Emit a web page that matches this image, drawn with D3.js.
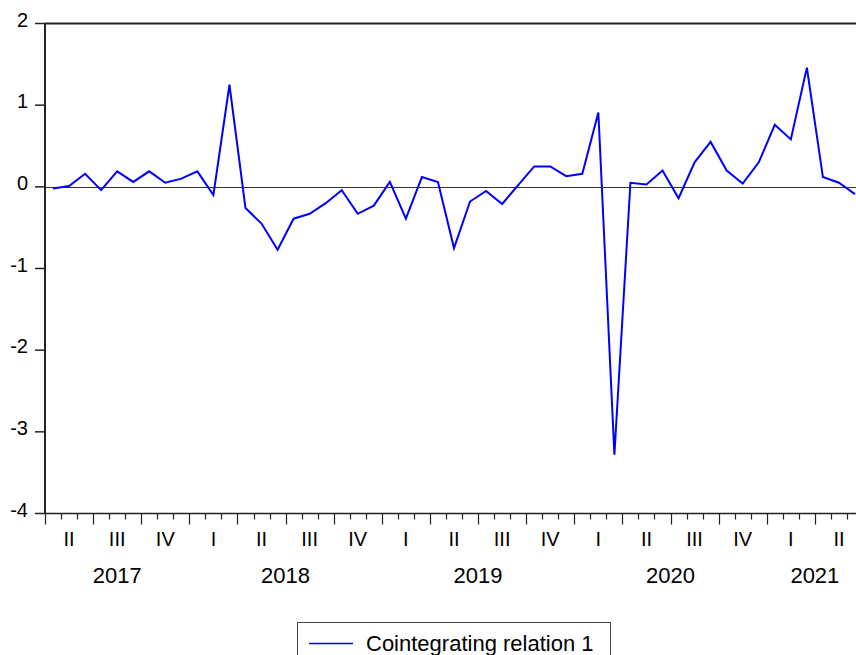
<!DOCTYPE html>
<html>
<head>
<meta charset="utf-8">
<script src="https://d3js.org/d3.v7.min.js"></script>
<style>
  body { margin: 0; background: #fff; }
  text { font-family: "Liberation Sans", Arial, sans-serif; fill: #000; }
</style>
</head>
<body>
<div id="chart"></div>
<script>
// monthly series, 2017M04 .. 2021M06
const startYear = 2017;
const startMonth = 4;
const values = [
  -0.02, 0.01, 0.16, -0.04, 0.19, 0.06, 0.19, 0.05, 0.10,
  0.19, -0.10, 1.25, -0.26, -0.45, -0.77, -0.39, -0.33, -0.20, -0.04, -0.33, -0.23,
  0.06, -0.39, 0.12, 0.06, -0.75, -0.18, -0.05, -0.21, 0.02, 0.25, 0.25, 0.13,
  0.16, 0.91, -3.28, 0.05, 0.03, 0.20, -0.14, 0.30, 0.55, 0.20, 0.04, 0.30,
  0.76, 0.58, 1.46, 0.12, 0.05, -0.09
];
const yTicks = [-4, -3, -2, -1, 0, 1, 2];
const quarterNames = ["I", "II", "III", "IV"];
const seriesName = "Cointegrating relation 1";

const width = 856, height = 655;
const margin = { top: 23.5, left: 45, bottom: 513.5 };

const svg = d3.select("#chart").append("svg")
  .attr("width", width)
  .attr("height", height);

const n = values.length;
const x = d3.scaleLinear().domain([-0.5, n - 0.5]).range([margin.left, 863]);
const y = d3.scaleLinear().domain([-4, 2]).range([margin.bottom, margin.top]);

const months = values.map((v, i) => {
  const m = startMonth - 1 + i;
  return { i, year: startYear + Math.floor(m / 12), month: (m % 12) + 1, value: v };
});

// zero line
svg.append("line")
  .attr("x1", margin.left).attr("x2", width)
  .attr("y1", Math.round(y(0)) + 0.5).attr("y2", Math.round(y(0)) + 0.5)
  .attr("stroke", "#333").attr("stroke-width", 1);

// frame: top + left + bottom
svg.append("line")
  .attr("x1", margin.left).attr("x2", width)
  .attr("y1", margin.top).attr("y2", margin.top)
  .attr("stroke", "#222").attr("stroke-width", 2);
svg.append("line")
  .attr("x1", margin.left).attr("x2", margin.left)
  .attr("y1", margin.top).attr("y2", margin.bottom)
  .attr("stroke", "#222").attr("stroke-width", 2);
svg.append("line")
  .attr("x1", margin.left).attr("x2", width)
  .attr("y1", margin.bottom).attr("y2", margin.bottom)
  .attr("stroke", "#222").attr("stroke-width", 1.5);

// y axis
const yAxis = svg.append("g");
yAxis.selectAll("line").data(yTicks).enter().append("line")
  .attr("x1", 35).attr("x2", margin.left)
  .attr("y1", d => y(d)).attr("y2", d => y(d))
  .attr("stroke", "#222").attr("stroke-width", 1.5);
yAxis.selectAll("text").data(yTicks).enter().append("text")
  .attr("x", 28).attr("y", d => y(d) + 3)
  .attr("text-anchor", "end")
  .style("font-size", "20px")
  .text(d => d);

// x axis ticks: month boundaries, long at quarter starts
const xAxis = svg.append("g");
xAxis.selectAll("line").data(d3.range(n + 1)).enter().append("line")
  .attr("x1", d => Math.round(x(d - 0.5)) + 0.5)
  .attr("x2", d => Math.round(x(d - 0.5)) + 0.5)
  .attr("y1", margin.bottom)
  .attr("y2", d => ((startMonth - 1 + d) % 3 === 0 ? margin.bottom + 11 : margin.bottom + 6))
  .attr("stroke", "#222").attr("stroke-width", 1.2);

// quarter labels
const quarters = d3.groups(months, d => d.year + "-" + Math.floor((d.month - 1) / 3))
  .map(([k, ms]) => ({
    q: Math.floor((ms[0].month - 1) / 3),
    mid: (ms[0].i + ms[ms.length - 1].i) / 2
  }));
xAxis.selectAll("text.q").data(quarters).enter().append("text")
  .attr("class", "q")
  .attr("x", d => x(d.mid))
  .attr("y", 546)
  .attr("text-anchor", "middle")
  .style("font-size", "20px")
  .text(d => quarterNames[d.q]);

// year labels
const years = d3.groups(months, d => d.year)
  .map(([yr, ms]) => ({ yr, mid: (ms[0].i + ms[ms.length - 1].i) / 2 }));
xAxis.selectAll("text.y").data(years).enter().append("text")
  .attr("class", "y")
  .attr("x", d => x(d.mid))
  .attr("y", 583)
  .attr("text-anchor", "middle")
  .style("font-size", "22px")
  .text(d => d.yr);

// series line
const line = d3.line()
  .x(d => x(d.i))
  .y(d => y(d.value));
svg.append("path")
  .datum(months)
  .attr("d", line)
  .attr("fill", "none")
  .attr("stroke", "#0000ff")
  .attr("stroke-width", 2)
  .attr("stroke-linejoin", "miter");

// legend
const legend = svg.append("g");
legend.append("rect")
  .attr("x", 297.5).attr("y", 622.5)
  .attr("width", 313).attr("height", 50)
  .attr("fill", "#fff").attr("stroke", "#444").attr("stroke-width", 1);
legend.append("line")
  .attr("x1", 309).attr("x2", 353)
  .attr("y1", 643.5).attr("y2", 643.5)
  .attr("stroke", "#0000ff").attr("stroke-width", 1.3);
legend.append("text")
  .attr("x", 366).attr("y", 651)
  .style("font-size", "22px")
  .text(seriesName);
</script>
</body>
</html>
